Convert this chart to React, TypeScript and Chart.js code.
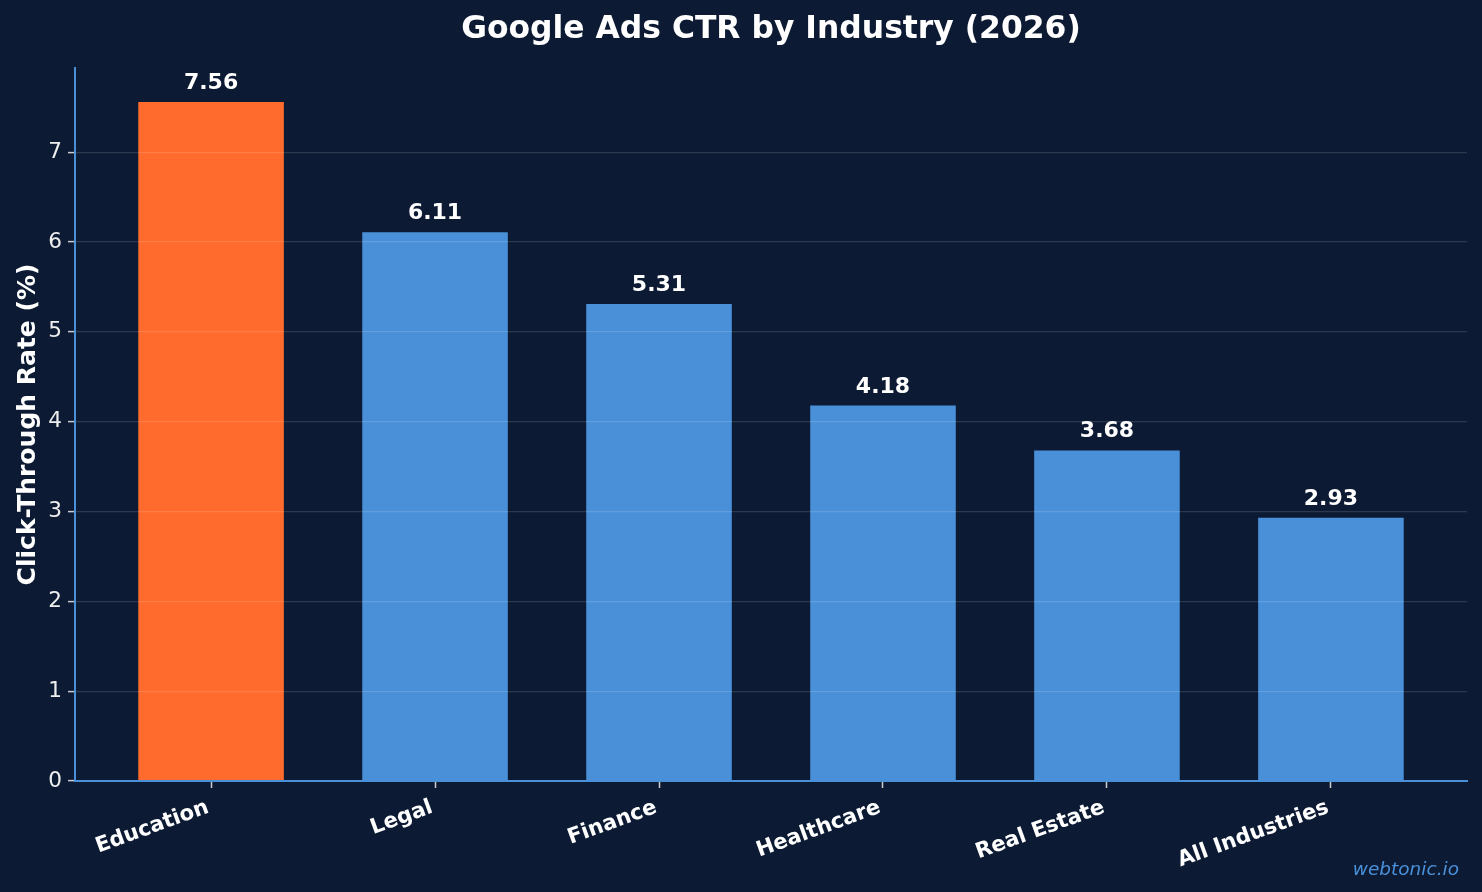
import React, { useEffect, useRef } from "react";
import { Chart, registerables } from "chart.js";

Chart.register(...registerables);

const categories = ["Education", "Legal", "Finance", "Healthcare", "Real Estate", "All Industries"];
const ctrValues = [7.56, 6.11, 5.31, 4.18, 3.68, 2.93];
const yTickValues = [0, 1, 2, 3, 4, 5, 6, 7];
const highlightIndex = 0;
const chartTitle = "Google Ads CTR by Industry (2026)";
const yAxisTitle = "Click-Through Rate (%)";
const watermarkText = "webtonic.io";

const BG = "#0c1b33";
const ORANGE = "#ff6b2c";
const BLUE = "#4a90d9";
const FONT = "'DejaVu Sans', sans-serif";

const BAR_WIDTH = 0.65;
const xMargin = 0.05 * (categories.length - 1 + BAR_WIDTH);
const xMin = -BAR_WIDTH / 2 - xMargin;
const xMax = categories.length - 1 + BAR_WIDTH / 2 + xMargin;
const yMax = Math.max(...ctrValues) * 1.05;

const bgPlugin = {
  id: "bgFill",
  beforeDraw(chart: any) {
    const { ctx, width, height } = chart;
    ctx.save();
    ctx.fillStyle = BG;
    ctx.fillRect(0, 0, width, height);
    ctx.restore();
  },
};

const labelsPlugin = {
  id: "valueLabels",
  afterDraw(chart: any) {
    const { ctx } = chart;
    const xs = chart.scales.x;
    const ys = chart.scales.y;
    ctx.save();
    ctx.fillStyle = "#ffffff";
    ctx.font = `bold 22px ${FONT}`;
    ctx.textAlign = "center";
    ctx.textBaseline = "alphabetic";
    ctrValues.forEach((v, i) => {
      ctx.fillText(v.toFixed(2), xs.getPixelForValue(i), ys.getPixelForValue(v) - 13);
    });
    ctx.font = `italic 18.5px ${FONT}`;
    ctx.fillStyle = BLUE;
    ctx.textAlign = "right";
    ctx.fillText(watermarkText, 1459, 875);
    ctx.restore();
  },
};

export default function App() {
  const canvasRef = useRef<HTMLCanvasElement | null>(null);

  useEffect(() => {
    document.body.style.background = BG;
    const canvas = canvasRef.current;
    if (!canvas) return;
    const chart = new Chart(canvas, {
      type: "bar",
      data: {
        datasets: [
          {
            data: ctrValues.map((v, i) => ({ x: i, y: v })),
            backgroundColor: ctrValues.map((_, i) => (i === highlightIndex ? ORANGE : BLUE)),
            borderWidth: 0,
            categoryPercentage: 1,
            barPercentage: BAR_WIDTH,
          } as any,
        ],
      },
      options: {
        responsive: false,
        animation: false,
        layout: { padding: { left: 0, right: 15, top: 0, bottom: 0 } },
        plugins: {
          legend: { display: false },
          tooltip: { enabled: false },
          title: {
            display: true,
            text: chartTitle,
            fullSize: false,
            color: "#ffffff",
            font: { family: FONT, size: 31.4, weight: "bold", lineHeight: 1.2 },
            padding: { top: 11, bottom: 19.3 },
          },
        },
        scales: {
          x: {
            type: "linear",
            min: xMin,
            max: xMax,
            offset: false,
            afterBuildTicks: (s: any) => {
              s.ticks = categories.map((_, i) => ({ value: i }));
            },
            afterFit: (s: any) => {
              s.height = 111;
            },
            ticks: {
              autoSkip: false,
              minRotation: 20,
              maxRotation: 20,
              padding: 7,
              labelOffset: -3,
              color: "#ffffff",
              font: { family: FONT, size: 21.2, weight: "bold" },
              callback: (v: any) => categories[Math.round(Number(v))] ?? "",
            },
            grid: {
              display: true,
              offset: false,
              drawOnChartArea: false,
              drawTicks: true,
              tickLength: 7,
              tickColor: "#cccccc",
              tickWidth: 1.5,
            },
            border: { display: true, color: BLUE, width: 2, z: 2 },
          },
          y: {
            type: "linear",
            min: 0,
            max: yMax,
            afterBuildTicks: (s: any) => {
              s.ticks = yTickValues.map((v) => ({ value: v }));
            },
            afterFit: (s: any) => {
              s.width = 75;
            },
            ticks: {
              padding: 6,
              color: "#eeeeee",
              font: { family: FONT, size: 21.6 },
              callback: (v: any) => String(v),
            },
            grid: {
              z: 1,
              color: (c: any) => (c.tick && c.tick.value === 0 ? "rgba(0,0,0,0)" : "rgba(255,255,255,0.13)"),
              lineWidth: 1.2,
              drawTicks: true,
              tickLength: 7,
              tickColor: "#cccccc",
              tickWidth: 1.5,
            },
            border: { display: true, color: BLUE, width: 2, z: 2 },
            title: {
              display: true,
              text: yAxisTitle,
              color: "#ffffff",
              font: { family: FONT, size: 25, weight: "bold", lineHeight: 1.2 },
              padding: { top: 13, bottom: 0 },
            },
          },
        },
      } as any,
      plugins: [bgPlugin, labelsPlugin],
    });
    return () => chart.destroy();
  }, []);

  return (
    <div style={{ position: "absolute", left: 0, top: 0, width: 1482, height: 892 }}>
      <canvas ref={canvasRef} width={1482} height={892} style={{ display: "block" }} />
    </div>
  );
}
